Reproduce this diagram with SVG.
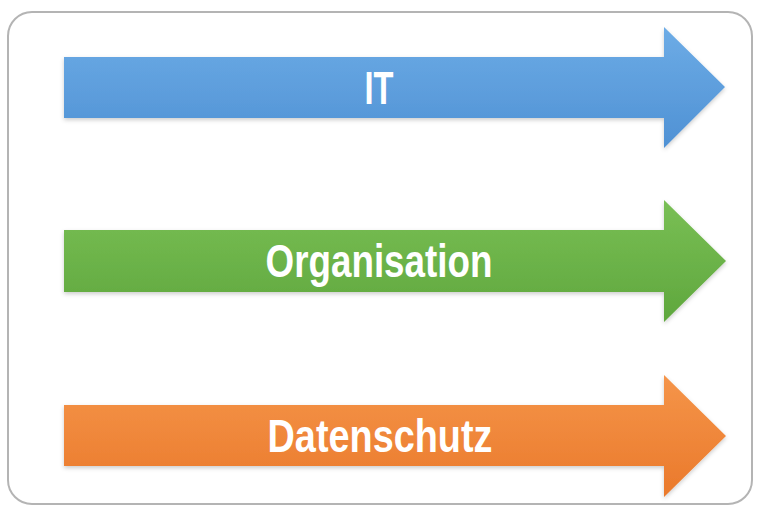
<svg xmlns="http://www.w3.org/2000/svg" width="760" height="505" viewBox="0 0 760 505">
<defs>
<linearGradient id="gb" x1="0" y1="0" x2="0" y2="1"><stop offset="0" stop-color="#6dace6"/><stop offset="1" stop-color="#4f91d4"/></linearGradient>
<linearGradient id="gg" x1="0" y1="0" x2="0" y2="1"><stop offset="0" stop-color="#79bf55"/><stop offset="1" stop-color="#5fa73d"/></linearGradient>
<linearGradient id="go" x1="0" y1="0" x2="0" y2="1"><stop offset="0" stop-color="#f5954a"/><stop offset="1" stop-color="#ea792b"/></linearGradient>
<filter id="sh" x="-5%" y="-10%" width="110%" height="125%"><feDropShadow dx="0" dy="2" stdDeviation="2" flood-color="#000" flood-opacity="0.2"/></filter>
</defs>
<style>
.lbl{font-family:"Liberation Sans",Arial,sans-serif;font-weight:bold;font-size:46px;fill:#fff;text-anchor:middle}
</style>
<rect x="0" y="0" width="760" height="505" fill="#fff"/>
<rect x="8" y="12" width="744" height="492" rx="24" ry="24" fill="#fff" stroke="#b4b4b4" stroke-width="2"/>
<g id="it">
<path d="M64 57 H664 V27 L725 87 L664 148 V118 H64 Z" fill="url(#gb)" filter="url(#sh)"/>
<text class="lbl" x="379" y="104" textLength="29" lengthAdjust="spacingAndGlyphs">IT</text>
</g>
<g id="organisation">
<path d="M64 230 H664 V200 L726 261 L664 322 V292 H64 Z" fill="url(#gg)" filter="url(#sh)"/>
<text class="lbl" x="379" y="277" textLength="227" lengthAdjust="spacingAndGlyphs">Organisation</text>
</g>
<g id="datenschutz">
<path d="M64 405 H664 V375 L726 436 L664 497 V466 H64 Z" fill="url(#go)" filter="url(#sh)"/>
<text class="lbl" x="380" y="452" textLength="225" lengthAdjust="spacingAndGlyphs">Datenschutz</text>
</g>
<g id="connectors"/>
</svg>
